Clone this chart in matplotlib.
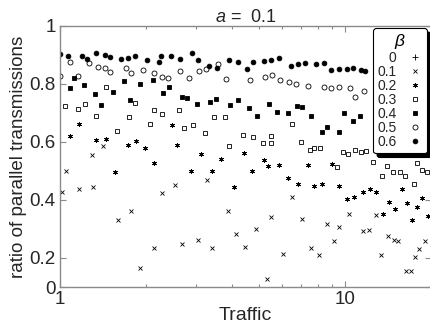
import numpy as np
import matplotlib
matplotlib.use('Agg')
import matplotlib.pyplot as plt

### Fonts and colours
plt.rcParams['font.family'] = ['Liberation Sans', 'DejaVu Sans']
plt.rcParams['mathtext.fontset'] = 'custom'
plt.rcParams['mathtext.it'] = 'Liberation Sans:italic'
plt.rcParams['mathtext.rm'] = 'Liberation Sans'
textcol = '#262626'
axcol = '#8a8a8a'

### Data: traffic vs ratio of parallel transmissions, one set per beta
betas = ['0', '0.1', '0.2', '0.3', '0.4', '0.5', '0.6']

traffic_b00 = [1.00, 1.50, 2.00, 3.00, 5.00, 8.00, 12.0, 18.0]
ratio_b00 = [0.0, 0.0, 0.0, 0.0, 0.0, 0.0, 0.0, 0.0]

traffic_b01 = [1.016, 1.050, 1.166, 1.295, 1.305, 1.415, 1.598, 1.775, 1.909,
               2.137, 2.280, 2.532, 2.680, 3.050, 3.280, 3.415, 3.885, 4.145,
               4.459, 4.873, 5.325, 5.500, 6.060, 6.516, 7.065, 7.597, 8.105,
               8.648, 9.150, 9.530, 10.33, 11.57, 12.14, 12.85, 13.38, 14.16,
               14.86, 15.35, 16.37, 17.04, 17.60, 18.18, 19.09]
ratio_b01 = [0.428, 0.500, 0.438, 0.555, 0.445, 0.586, 0.331, 0.362, 0.166,
             0.234, 0.424, 0.452, 0.248, 0.262, 0.469, 0.234, 0.362, 0.283,
             0.238, 0.300, 0.128, 0.341, 0.214, 0.410, 0.334, 0.234, 0.210,
             0.317, 0.259, 0.307, 0.352, 0.293, 0.297, 0.348, 0.210, 0.276,
             0.262, 0.259, 0.155, 0.155, 0.203, 0.231, 0.259]

traffic_b02 = [1.084, 1.166, 1.338, 1.450, 1.560, 1.733, 1.848, 1.987, 2.137,
               2.472, 2.574, 2.881, 3.124, 3.415, 3.672, 4.079, 4.422, 4.717,
               5.197, 5.369, 5.867, 6.310, 6.841, 7.417, 7.785, 8.305, 9.000,
               9.530, 10.16, 10.75, 11.57, 12.24, 12.85, 13.60, 14.27, 14.98,
               15.85, 16.50, 17.18, 17.89, 18.63, 19.55]
ratio_b02 = [0.621, 0.662, 0.607, 0.610, 0.497, 0.590, 0.603, 0.579, 0.528,
             0.659, 0.590, 0.500, 0.559, 0.500, 0.541, 0.445, 0.562, 0.500,
             0.538, 0.517, 0.521, 0.476, 0.455, 0.521, 0.448, 0.455, 0.524,
             0.448, 0.403, 0.410, 0.428, 0.438, 0.428, 0.352, 0.393, 0.369,
             0.438, 0.390, 0.331, 0.376, 0.407, 0.345]

traffic_b03 = [1.041, 1.157, 1.224, 1.338, 1.450, 1.585, 1.746, 1.833, 2.070,
               2.137, 2.280, 2.616, 2.724, 2.929, 3.227, 3.470, 3.793, 3.917,
               4.386, 4.756, 5.157, 5.500, 5.500, 6.516, 7.008, 7.536, 7.785,
               8.170, 9.374, 9.840, 10.24, 10.84, 11.38, 11.85, 12.54, 13.49,
               14.04, 14.74, 15.60, 16.24, 17.47, 17.89, 18.63, 19.40]
ratio_b03 = [0.724, 0.714, 0.731, 0.690, 0.790, 0.638, 0.686, 0.734, 0.662,
             0.710, 0.697, 0.710, 0.648, 0.659, 0.631, 0.686, 0.686, 0.586,
             0.624, 0.617, 0.597, 0.621, 0.597, 0.662, 0.600, 0.572, 0.579,
             0.579, 0.514, 0.566, 0.559, 0.572, 0.566, 0.569, 0.531, 0.483,
             0.517, 0.497, 0.497, 0.483, 0.455, 0.528, 0.503, 0.497]

traffic_b04 = [1.084, 1.120, 1.214, 1.327, 1.393, 1.535, 1.677, 1.761, 1.909,
               2.120, 2.298, 2.413, 2.680, 2.790, 3.024, 3.360, 3.527, 3.949,
               4.212, 4.605, 4.912, 5.412, 5.772, 6.310, 6.786, 7.065, 7.597,
               8.305, 8.648, 9.530, 9.920, 10.67, 11.29, 14.98, 16.64]
ratio_b04 = [0.786, 0.821, 0.797, 0.766, 0.728, 0.772, 0.810, 0.745, 0.800,
             0.814, 0.769, 0.790, 0.755, 0.752, 0.731, 0.738, 0.748, 0.728,
             0.745, 0.717, 0.690, 0.731, 0.703, 0.700, 0.724, 0.721, 0.690,
             0.634, 0.652, 0.634, 0.700, 0.672, 0.690, 0.593, 0.597]

traffic_b05 = [1.000, 1.084, 1.157, 1.264, 1.359, 1.439, 1.498, 1.704, 1.775,
               1.956, 2.137, 2.280, 2.393, 2.637, 2.836, 3.074, 3.253, 3.584,
               3.823, 4.642, 5.241, 5.545, 5.914, 6.361, 6.730, 7.417, 8.440,
               8.926, 9.530, 10.41, 10.84, 11.66]
ratio_b05 = [0.828, 0.876, 0.828, 0.872, 0.859, 0.855, 0.841, 0.855, 0.838,
             0.848, 0.838, 0.824, 0.821, 0.845, 0.821, 0.845, 0.852, 0.869,
             0.817, 0.814, 0.824, 0.831, 0.814, 0.807, 0.800, 0.793, 0.790,
             0.786, 0.790, 0.786, 0.755, 0.776]

traffic_b06 = [1.000, 1.067, 1.195, 1.244, 1.338, 1.439, 1.498, 1.637, 1.733,
               1.833, 2.020, 2.226, 2.262, 2.452, 2.637, 2.905, 3.050, 3.333,
               3.555, 3.917, 4.212, 4.531, 4.756, 5.197, 5.500, 5.867, 6.465,
               6.841, 7.236, 7.910, 8.440, 8.930, 9.530, 10.16, 10.67, 11.38,
               11.75]
ratio_b06 = [0.903, 0.897, 0.897, 0.886, 0.907, 0.900, 0.893, 0.886, 0.890,
             0.897, 0.883, 0.876, 0.897, 0.897, 0.886, 0.907, 0.883, 0.862,
             0.855, 0.883, 0.876, 0.852, 0.876, 0.879, 0.883, 0.890, 0.862,
             0.869, 0.872, 0.869, 0.872, 0.848, 0.852, 0.852, 0.855, 0.848,
             0.845]

traffic = [traffic_b00, traffic_b01, traffic_b02, traffic_b03, traffic_b04,
           traffic_b05, traffic_b06]
ratio = [ratio_b00, ratio_b01, ratio_b02, ratio_b03, ratio_b04, ratio_b05,
         ratio_b06]

### Marker style for each beta
styles = [dict(marker='+', ms=4.5, mfc='none'),
          dict(marker='x', ms=3.2, mfc='none'),
          dict(marker=(6, 2, 0), ms=3.6, mfc='none'),
          dict(marker='s', ms=3.4, mfc='none'),
          dict(marker='s', ms=3.4, mfc='k'),
          dict(marker='o', ms=3.6, mfc='none'),
          dict(marker='o', ms=3.4, mfc='k')]

### Make plot
fig = plt.figure(figsize=(4.3, 3.27), dpi=100)
ax = fig.add_axes([60/430, 1-287/327, 371/430, 261/327])

for i in range(len(betas)):
    ax.plot(traffic[i], ratio[i], linestyle='none', color='k', mec='k',
            mew=0.6, label=betas[i], **styles[i])

ax.set_xscale('log')
ax.set_xlim([1, 20])
ax.set_ylim([0.1, 1.0])
ax.set_xticks([1, 10])
ax.set_xticklabels(['1', '10'])
ax.set_yticks([0.1, 0.2, 0.4, 0.6, 0.8, 1.0])
ax.set_yticklabels(['0', '0.2', '0.4', '0.6', '0.8', '1'])

for loc, spine in ax.spines.items():
    spine.set_color(axcol)
    spine.set_linewidth(1.0)
ax.tick_params(which='both', direction='in', top=True, right=True,
               color=axcol, labelcolor=textcol, labelsize=13.5)
ax.tick_params(which='major', length=4, width=0.8, pad=3)
ax.tick_params(which='minor', length=2.5, width=0.8)

ax.set_xlabel('Traffic', fontsize=14, color=textcol, labelpad=-1)
ax.set_ylabel('ratio of parallel transmissions', fontsize=13.5,
              color=textcol, labelpad=2)
ax.set_title(r'$a$ =  0.1', fontsize=13, color=textcol, pad=3)

l = ax.legend(loc='upper right', bbox_to_anchor=(427/430, 1-28/327),
              bbox_transform=fig.transFigure, borderaxespad=0,
              markerfirst=False, title=r'$\beta$', title_fontsize=12.5,
              fontsize=10, frameon=True, fancybox=True,
              shadow={'color': 'k', 'alpha': 1.0, 'ox': 3, 'oy': -3},
              edgecolor='k', framealpha=1, labelspacing=0.0,
              handlelength=1.2, handletextpad=0.7, borderpad=0.3)
l.get_frame().set_linewidth(0.8)
for text in l.get_texts():
    text.set_color(textcol)

plt.savefig('out.png', dpi=100)
